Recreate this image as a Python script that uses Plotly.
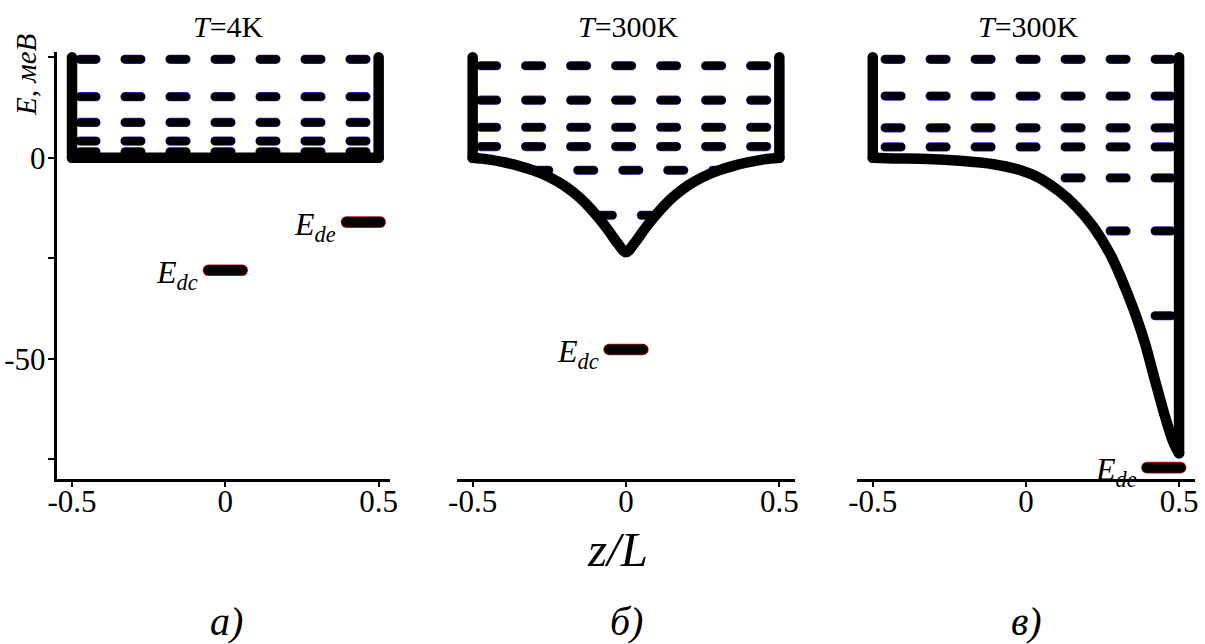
import numpy as np
import plotly.graph_objects as go

# ---------------- data (energies in meV, coordinate z/L) ----------------
# (а) rectangular well, T = 4 K
levels_a = [24.5, 15.2, 8.8, 4.15, 1.5]
E_dc_a = -28.0
E_de_a = -16.0

# (б) T = 300 K, symmetric potential with a cusp at the centre
z_b = [-0.5, -0.45, -0.4, -0.35, -0.3, -0.25, -0.2, -0.15, -0.1, -0.06, -0.03, 0.0,
       0.03, 0.06, 0.1, 0.15, 0.2, 0.25, 0.3, 0.35, 0.4, 0.45, 0.5]
U_b = [0.0, -0.4, -1.1, -2.0, -3.2, -4.8, -7.0, -10.0, -14.0, -17.8, -21.0, -23.5,
       -21.0, -17.8, -14.0, -10.0, -7.0, -4.8, -3.2, -2.0, -1.1, -0.4, 0.0]
levels_b = [22.9, 14.35, 7.6, 2.8, -3.1, -14.3]
E_dc_b = -47.7

# (в) T = 300 K, potential falling towards the right wall
z_c = [-0.5, -0.43, -0.32, -0.215, -0.106, -0.02, 0.046, 0.111, 0.165, 0.22, 0.274,
       0.30, 0.33, 0.36, 0.39, 0.42, 0.45, 0.475, 0.49, 0.5]
U_c = [0.0, -0.15, -0.3, -0.75, -1.6, -3.05, -5.1, -8.5, -12.2, -17.2, -23.8,
       -28.0, -33.5, -39.5, -46.5, -55.0, -63.3, -69.5, -72.2, -73.5]
levels_c = [24.5, 15.35, 7.45, 2.7, -5.0, -18.2, -39.3]
E_de_c = -77.1

x_ticks = [-0.5, 0, 0.5]
x_ticktext = ["-0.5", "0", "0.5"]
y_ticks = [25, 0, -25, -50, -75]
y_ticktext = [" ", "0", " ", "-50", " "]

panel_titles = ["<i>T</i>=4K", "<i>T</i>=300K", "<i>T</i>=300K"]
panel_letters = ["<i>а)</i>", "<i>б)</i>", "<i>в)</i>"]

# ---------------- styling constants ----------------
W, H = 1205, 644
SERIF = "Liberation Serif"
WALL_TOP = 25.0
WALL_W = 10.5
LEVEL_W = 8
LEVEL_DASH = "16px,29px"
INSET = 0.026
BAR_HALF = 0.055
Y_RANGE = [-80.0, 26.4]
Y_DOM = [(H - 479.3) / H, (H - 51.7) / H]

x_domains = [[57 / W, 390 / W], [456.7 / W, 795 / W], [856.7 / W, 1195 / W]]
x_ranges = [[-0.549, 0.537], [-0.552, 0.551], [-0.5525, 0.552]]

fig = go.Figure()


def axes_of(k):
    return ("x", "y") if k == 0 else (f"x{k + 1}", f"y{k + 1}")


def level_span(level, z, U):
    zz = np.linspace(-0.5, 0.5, 4001)
    uu = np.interp(zz, z, U)
    inside = zz[uu <= level]
    left = max(inside.min(), -0.5 + INSET)
    right = min(inside.max(), 0.5 - INSET)
    return left, right


def add_line(k, xs, ys, color, width, dash=None, shape="linear"):
    xa, ya = axes_of(k)
    fig.add_trace(go.Scatter(x=xs, y=ys, mode="lines", xaxis=xa, yaxis=ya,
                             line=dict(color=color, width=width, dash=dash, shape=shape,
                                       smoothing=0.9 if shape == "spline" else None),
                             hoverinfo="skip"))


def add_well(k, z, U, levels, from_right=False):
    for lev in levels:
        left, right = level_span(lev, z, U)
        xs = [right, left] if from_right else [left, right]
        add_line(k, xs, [lev, lev], "#2a2ad0", LEVEL_W + 1.2, LEVEL_DASH)
        add_line(k, xs, [lev, lev], "black", LEVEL_W, LEVEL_DASH)
    # walls
    add_line(k, [-0.5, -0.5], [WALL_TOP, U[0]], "black", WALL_W)
    add_line(k, [0.5, 0.5], [U[-1], WALL_TOP], "black", WALL_W)
    # bottom of the well
    add_line(k, list(z), list(U), "black", WALL_W, shape="spline")


def add_bar(k, x0, x1, e, label):
    xa, ya = axes_of(k)
    add_line(k, [x0, x1], [e, e], "#d01010", 11.6)
    add_line(k, [x0, x1], [e, e], "black", 10)
    fig.add_annotation(x=x0, y=e, xref=xa, yref=ya, text=label, showarrow=False,
                       xanchor="right", yanchor="middle", xshift=-8, yshift=-4,
                       font=dict(family=SERIF, size=32, color="black"))


flat_z = [-0.5, 0.5]
flat_U = [0.0, 0.0]
add_well(0, flat_z, flat_U, levels_a)
add_well(1, z_b, U_b, levels_b)
add_well(2, z_c, U_c, levels_c, from_right=True)

add_bar(0, -BAR_HALF, BAR_HALF, E_dc_a, "<i>E</i><sub><i>dc</i></sub>")
add_bar(0, 0.395, 0.505, E_de_a, "<i>E</i><sub><i>de</i></sub>")
add_bar(1, -BAR_HALF, BAR_HALF, E_dc_b, "<i>E</i><sub><i>dc</i></sub>")
add_bar(2, 0.395, 0.505, E_de_c, "<i>E</i><sub><i>de</i></sub>")

axis_font = dict(family=SERIF, size=31, color="black")
layout = dict(
    width=W, height=H, margin=dict(l=0, r=0, t=0, b=0, autoexpand=False),
    paper_bgcolor="white", plot_bgcolor="white", showlegend=False,
)
for k in range(3):
    sx = "" if k == 0 else str(k + 1)
    layout[f"xaxis{sx}"] = dict(
        domain=x_domains[k], range=x_ranges[k], anchor=f"y{sx}",
        showline=True, linecolor="black", linewidth=2.6,
        ticks="outside", ticklen=5, tickwidth=2, tickcolor="black",
        tickvals=x_ticks, ticktext=x_ticktext, tickfont=axis_font,
        ticklabelstandoff=-12,
        showgrid=False, zeroline=False, fixedrange=True, automargin=False,
    )
    layout[f"yaxis{sx}"] = dict(
        domain=Y_DOM, range=Y_RANGE, anchor=f"x{sx}",
        showgrid=False, zeroline=False, fixedrange=True, automargin=False,
        visible=(k == 0),
        showline=True, linecolor="black", linewidth=3.2,
        ticks="outside", ticklen=6, tickwidth=2, tickcolor="black",
        tickvals=y_ticks, ticktext=y_ticktext, tickfont=axis_font,
        ticklabelstandoff=-4,
    )
fig.update_layout(**layout)

centres = [225.3, 625.7, 1025.7]
for k in range(3):
    fig.add_annotation(x=(centres[k] + 3) / W, y=1 - 26 / H, xref="paper", yref="paper",
                       text=panel_titles[k], showarrow=False,
                       xanchor="center", yanchor="middle",
                       font=dict(family=SERIF, size=30, color="black"))
    fig.add_annotation(x=(centres[k] + 1) / W, y=1 - 621 / H, xref="paper", yref="paper",
                       text=panel_letters[k], showarrow=False,
                       xanchor="center", yanchor="middle",
                       font=dict(family=SERIF, size=40, color="black"))

fig.add_annotation(x=617 / W, y=1 - 549 / H, xref="paper", yref="paper",
                   text="<i>z/L</i>", showarrow=False,
                   xanchor="center", yanchor="middle",
                   font=dict(family=SERIF, size=49, color="black"))
fig.add_annotation(x=26 / W, y=1 - 75 / H, xref="paper", yref="paper",
                   text="<i>E</i>, <i>меВ</i>", textangle=-90, showarrow=False,
                   xanchor="center", yanchor="middle",
                   font=dict(family=SERIF, size=29, color="black"))

# rounded ends and joins on all drawn lines
round_caps = """
var gd = document.getElementById('{plot_id}');
gd.querySelectorAll('.scatterlayer path.js-line').forEach(function (p) {
  p.style.strokeLinecap = 'round';
  p.style.strokeLinejoin = 'round';
});
"""
fig.write_html("out.html", post_script=round_caps, config={"staticPlot": True})
